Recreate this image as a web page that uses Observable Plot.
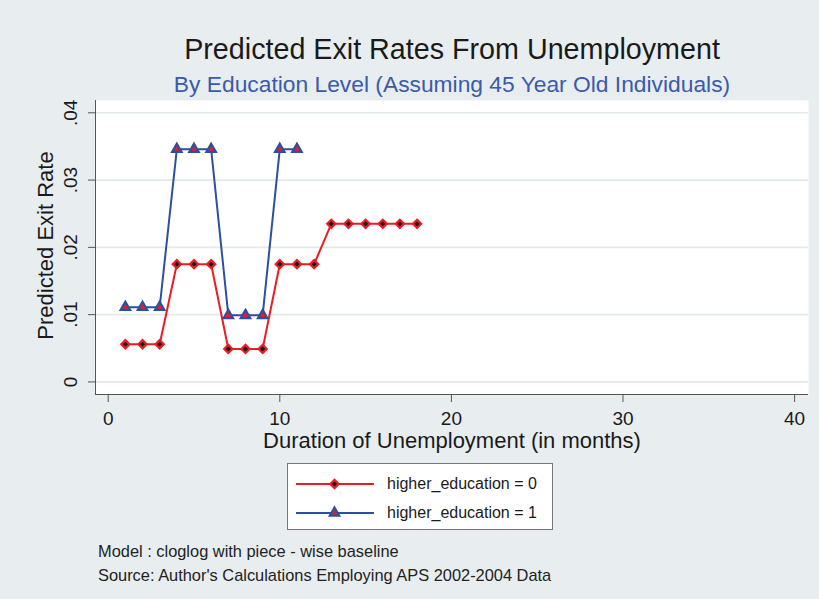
<!DOCTYPE html>
<html>
<head>
<meta charset="utf-8">
<script src="https://cdn.jsdelivr.net/npm/d3@7"></script>
<script src="https://cdn.jsdelivr.net/npm/@observablehq/plot@0.6"></script>
<style>
  html, body { margin: 0; padding: 0; background: #e8eef0; }
  #chart {
    position: relative; width: 819px; height: 599px; overflow: hidden;
    background: #e8eef0;
    font-family: "Liberation Sans", Arial, Helvetica, sans-serif;
    color: #1a1a1a;
  }
  #chart svg.plot { position: absolute; left: 0; top: 0; }
  #legend {
    position: absolute; left: 287px; top: 463px; width: 266px; height: 67px;
    background: #fff; border: 1px solid #777; box-sizing: border-box;
  }
  .legend-row {
    position: absolute; left: 7px; height: 20px; display: flex; align-items: center;
    font-size: 16px; white-space: nowrap;
  }
  .legend-row svg { display: block; margin-right: 13px; }
  #notes {
    position: absolute; left: 98px; top: 539px; font-size: 16.4px; line-height: 24px;
    color: #222; white-space: nowrap;
  }
</style>
</head>
<body>
<div id="chart"></div>
<script>
// Predicted exit rates by month of unemployment (piece-wise cloglog baseline)
const monthsNoHigherEd = [1, 2, 3, 4, 5, 6, 7, 8, 9, 10, 11, 12, 13, 14, 15, 16, 17, 18];
const rateNoHigherEd  = [0.0056, 0.0056, 0.0056, 0.0175, 0.0175, 0.0175, 0.0049, 0.0049, 0.0049,
                         0.0175, 0.0175, 0.0175, 0.0235, 0.0235, 0.0235, 0.0235, 0.0235, 0.0235];
const monthsHigherEd = [1, 2, 3, 4, 5, 6, 7, 8, 9, 10, 11];
const rateHigherEd   = [0.0111, 0.0111, 0.0111, 0.0346, 0.0346, 0.0346, 0.0099, 0.0099, 0.0099,
                        0.0346, 0.0346];

const xTicks = [0, 10, 20, 30, 40];
const yTicks = [0, 0.01, 0.02, 0.03, 0.04];
const yTickLabels = ["0", ".01", ".02", ".03", ".04"];

const seriesLabels = ["higher_education = 0", "higher_education = 1"];
const titleText = "Predicted Exit Rates From Unemployment";
const subtitleText = "By Education Level (Assuming 45 Year Old Individuals)";
const xTitle = "Duration of Unemployment (in months)";
const yTitle = "Predicted Exit Rate";
const noteLines = ["Model : cloglog with piece - wise baseline",
                   "Source: Author's Calculations Employing APS 2002-2004 Data"];

const RED = "#ec1c24";
const BLUE = "#2e4f9f";
const SUB_BLUE = "#3a5aaa";
const AXIS = "#555";
const INK = "#1a1a1a";

const noHigher = monthsNoHigherEd.map((m, i) => ({month: m, rate: rateNoHigherEd[i]}));
const higher = monthsHigherEd.map((m, i) => ({month: m, rate: rateHigherEd[i]}));

const xDomain = [-0.74, 40.81];
const yDomain = [-0.00187, 0.04183];

// centred text helper for titles and rotated labels
const centred = {textAnchor: "middle", lineAnchor: "middle"};

const chart = Plot.plot({
  width: 819,
  height: 470,
  marginTop: 100,
  marginLeft: 95,
  marginRight: 11,
  marginBottom: 76,
  x: {domain: xDomain},
  y: {domain: yDomain},
  style: {background: "transparent", fontFamily: "'Liberation Sans', Arial, Helvetica, sans-serif", overflow: "visible"},
  marks: [
    Plot.frame({fill: "white", stroke: null}),
    Plot.gridY(yTicks, {stroke: "#e3e9eb", strokeOpacity: 1, strokeWidth: 1.6}),
    Plot.ruleX([xDomain[0]], {stroke: AXIS, strokeWidth: 1}),
    Plot.ruleY([yDomain[0]], {stroke: AXIS, strokeWidth: 1}),
    Plot.axisX(xTicks, {tickSize: 8, tickPadding: 9, fontSize: 19, stroke: AXIS, fill: INK, label: null, tickFormat: d => String(d)}),
    Plot.axisY(yTicks, {tickSize: 7, stroke: AXIS, label: null, tickFormat: () => ""}),
    Plot.text(yTicks, {y: d => d, text: (d, i) => yTickLabels[i], frameAnchor: "left", dx: -25, rotate: -90, fontSize: 19, fill: INK, ...centred}),
    Plot.text([yTitle], {frameAnchor: "left", dx: -50, dy: -2, rotate: -90, fontSize: 22, fill: INK, ...centred}),
    Plot.text([xTitle], {frameAnchor: "bottom", dy: 46, fontSize: 22, fill: INK, ...centred}),
    Plot.text([titleText], {frameAnchor: "top", dy: -51, fontSize: 28.7, fill: INK, ...centred}),
    Plot.text([subtitleText], {frameAnchor: "top", dy: -16, fontSize: 22.8, fill: SUB_BLUE, ...centred}),
    Plot.line(noHigher, {x: "month", y: "rate", stroke: RED, strokeWidth: 2}),
    Plot.dot(noHigher, {x: "month", y: "rate", symbol: "diamond2", r: 3.7, fill: INK, stroke: RED, strokeWidth: 2.2}),
    Plot.line(higher, {x: "month", y: "rate", stroke: BLUE, strokeWidth: 2}),
    Plot.dot(higher, {x: "month", y: "rate", symbol: "triangle", r: 3.5, fill: RED, stroke: BLUE, strokeWidth: 2.2})
  ]
});
chart.classList.add("plot");
const root = document.getElementById("chart");
root.appendChild(chart);

// Legend: one row per series, with a line swatch and its marker
const legend = document.createElement("div");
legend.id = "legend";
const swatches = [
  {color: RED, symbol: d3.symbolDiamond2, fill: INK, stroke: RED, size: Math.PI * 3.7 * 3.7},
  {color: BLUE, symbol: d3.symbolTriangle, fill: RED, stroke: BLUE, size: Math.PI * 3.5 * 3.5}
];
seriesLabels.forEach((label, i) => {
  const row = document.createElement("div");
  row.className = "legend-row";
  row.style.top = (i === 0 ? 10 : 39) + "px";
  const sw = d3.create("svg").attr("width", 79).attr("height", 20);
  sw.append("line").attr("x1", 1).attr("x2", 79).attr("y1", 10).attr("y2", 10)
    .attr("stroke", swatches[i].color).attr("stroke-width", 2);
  sw.append("path").attr("transform", "translate(39.5,10)")
    .attr("d", d3.symbol(swatches[i].symbol, swatches[i].size)())
    .attr("fill", swatches[i].fill).attr("stroke", swatches[i].stroke).attr("stroke-width", 2.2);
  row.appendChild(sw.node());
  const span = document.createElement("span");
  span.textContent = label;
  row.appendChild(span);
  legend.appendChild(row);
});
root.appendChild(legend);

const notes = document.createElement("div");
notes.id = "notes";
noteLines.forEach(t => {
  const d = document.createElement("div");
  d.textContent = t;
  notes.appendChild(d);
});
root.appendChild(notes);
</script>
</body>
</html>
